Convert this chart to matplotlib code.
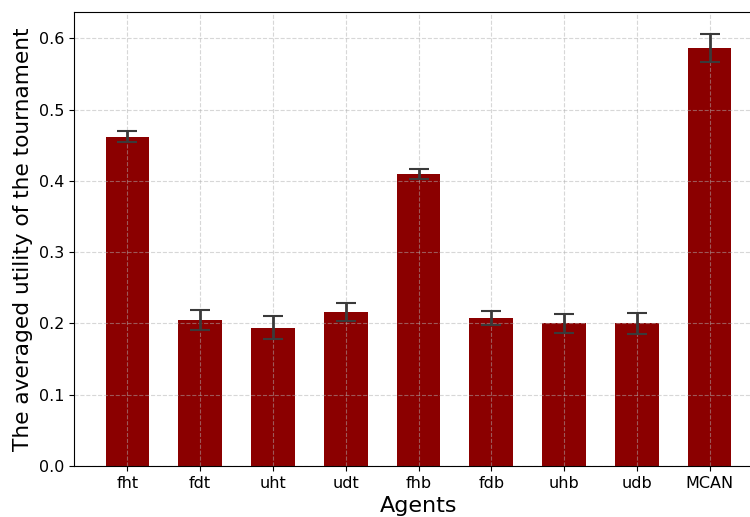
import numpy as np
import matplotlib.pyplot as plt

# averaged tournament utility per agent, with error
agents = ["fht", "fdt", "uht", "udt", "fhb", "fdb", "uhb", "udb", "MCAN"]
utility = [0.462, 0.205, 0.194, 0.216, 0.410, 0.208, 0.200, 0.200, 0.587]
errors = [0.008, 0.014, 0.016, 0.013, 0.007, 0.010, 0.013, 0.015, 0.020]

fig = plt.figure(figsize=(7.5, 5.17), dpi=100)
ax = fig.add_axes([0.099, 0.099, 0.918, 0.878])

x = np.arange(len(agents))
ax.bar(x, utility, width=0.6, color="darkred", yerr=errors,
       error_kw=dict(ecolor="#3a3a3a", elinewidth=2, capsize=7, capthick=1.5))

ax.set_xticks(x)
ax.set_xticklabels(agents, fontsize=11.5)
ax.tick_params(axis="y", labelsize=11.5)
ax.set_xlabel("Agents", fontsize=16)
ax.set_ylabel("The averaged utility of the tournament", fontsize=15.6)
ax.grid(True, linestyle="--", alpha=0.5)
ax.spines["right"].set_visible(False)

plt.savefig("out.png", dpi=100)
